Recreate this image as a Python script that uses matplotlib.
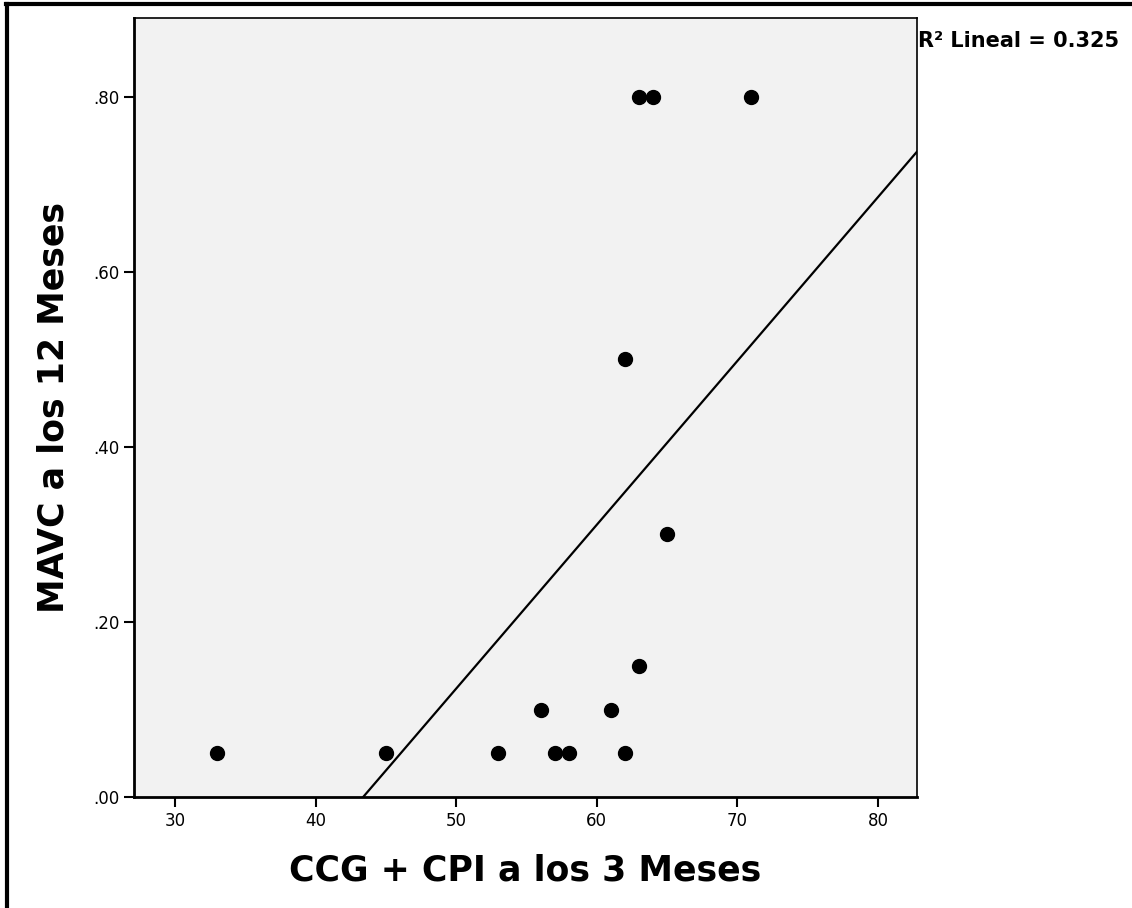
import matplotlib.pyplot as plt
import numpy as np
from matplotlib.lines import Line2D
from matplotlib.ticker import FuncFormatter

# datos
ccg_cpi = [33, 45, 53, 56, 57, 58, 61, 62, 62, 63, 63, 64, 65, 71]
mavc = [0.05, 0.05, 0.05, 0.10, 0.05, 0.05, 0.10, 0.05, 0.50, 0.15, 0.80, 0.80, 0.30, 0.80]
x_ticks = [30, 40, 50, 60, 70, 80]
y_ticks = [0.0, 0.2, 0.4, 0.6, 0.8]
r2_text = "R² Lineal = 0.325"

fig = plt.figure(figsize=(11.32, 9.08), dpi=100)
ax = fig.add_axes([0.1184, 0.1222, 0.6916, 0.858])
ax.set_facecolor('#f2f2f2')

ax.scatter(ccg_cpi, mavc, s=100, color='black', zorder=3)

# recta de regresion
b, a = np.polyfit(ccg_cpi, mavc, 1)
xl = np.array([27.08, 82.77])
ax.plot(xl, a + b * xl, color='black', lw=1.6, zorder=2)

ax.set_xlim(27.08, 82.77)
ax.set_ylim(0, 0.89)
ax.set_xticks(x_ticks)
ax.set_yticks(y_ticks)
ax.yaxis.set_major_formatter(FuncFormatter(lambda v, p: ('%.2f' % v).lstrip('0')))
ax.tick_params(axis='both', labelsize=12, length=7, width=1.5, direction='out')

for s in ax.spines.values():
    s.set_linewidth(1.2)
for s in ['left', 'bottom']:
    ax.spines[s].set_linewidth(2)

ax.set_xlabel("CCG + CPI a los 3 Meses", fontsize=25, fontweight='bold', labelpad=17)
ax.set_ylabel("MAVC a los 12 Meses", fontsize=25, fontweight='bold', labelpad=16)

fig.text(0.811, 0.955, r2_text, fontsize=15, fontweight='bold', va='center', ha='left')

# marco
fig.add_artist(Line2D([0.005, 1], [0.996, 0.996], color='black', lw=3))
fig.add_artist(Line2D([0.006, 0.006], [0, 0.996], color='black', lw=3))

fig.savefig('out.png', dpi=100)
